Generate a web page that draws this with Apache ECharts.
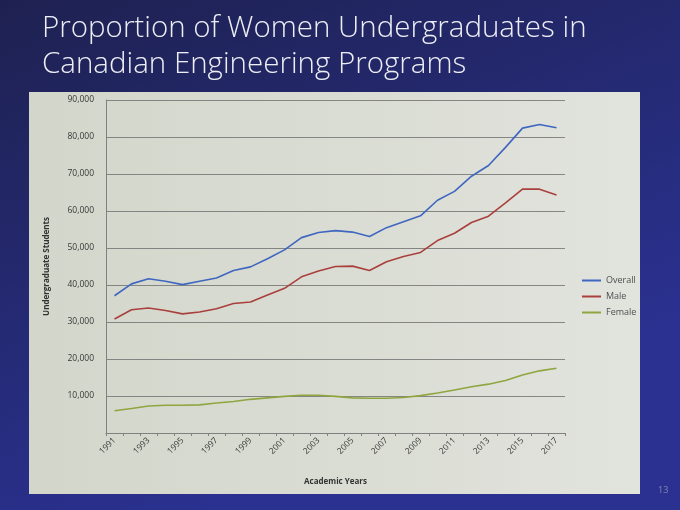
<!DOCTYPE html>
<html>
<head>
<meta charset="utf-8">
<script src="https://cdn.jsdelivr.net/npm/echarts@6/dist/echarts.min.js"></script>
<style>
  html, body { margin: 0; padding: 0; background: #23275f; }
  #chart { width: 680px; height: 510px; }
</style>
</head>
<body>
<div id="chart"></div>
<script>
// 学年
var years = ['1991', '1992', '1993', '1994', '1995', '1996', '1997', '1998', '1999',
    '2000', '2001', '2002', '2003', '2004', '2005', '2006', '2007', '2008', '2009',
    '2010', '2011', '2012', '2013', '2014', '2015', '2016', '2017'];

var overall = [37100, 40300, 41700, 41000, 40100, 41000, 41900, 43900, 44900,
    47100, 49500, 52800, 54200, 54700, 54300, 53100, 55500, 57100, 58700,
    62900, 65300, 69400, 72300, 77200, 82400, 83400, 82500];

var male = [30800, 33300, 33800, 33100, 32200, 32700, 33600, 35000, 35400,
    37300, 39100, 42200, 43800, 45000, 45100, 43900, 46300, 47700, 48800,
    52000, 54000, 56900, 58600, 62200, 65900, 65900, 64300];

var female = [6000, 6600, 7300, 7500, 7500, 7600, 8100, 8500, 9100,
    9500, 9900, 10200, 10200, 9900, 9500, 9400, 9400, 9600, 10100,
    10800, 11600, 12500, 13200, 14200, 15700, 16800, 17500];

var seriesNames = ['Overall', 'Male', 'Female'];
var seriesColors = ['#3f66c0', '#a9403d', '#8fa640'];

var myChart = echarts.init(document.getElementById('chart'));

var labelFont = 'Open Sans';

option = {
    backgroundColor: new echarts.graphic.LinearGradient(0, 0, 0.3, 1, [
        { offset: 0, color: '#1e2150' },
        { offset: 1, color: '#2a3190' }
    ]),
    title: {
        text: 'Proportion of Women Undergraduates in\nCanadian Engineering Programs',
        left: 37,
        top: 6,
        textStyle: {
            color: '#eceef4',
            fontFamily: labelFont,
            fontWeight: 300,
            fontSize: 29.5,
            lineHeight: 36
        }
    },
    // 浅色图表底板
    graphic: [{
        type: 'rect',
        z: -10,
        shape: { x: 29, y: 92, width: 611, height: 402 },
        style: {
            fill: new echarts.graphic.LinearGradient(0, 0, 1, 0, [
                { offset: 0, color: '#d3d6ca' },
                { offset: 1, color: '#e1e3dd' }
            ])
        }
    }, {
        type: 'text',
        left: 658,
        top: 486,
        style: { text: '13', fill: '#8088b0', fontSize: 9, fontFamily: labelFont }
    }],
    legend: {
        orient: 'vertical',
        left: 577,
        top: 271,
        icon: 'rect',
        itemWidth: 19,
        itemHeight: 2,
        itemGap: 7,
        data: seriesNames,
        textStyle: { color: '#505050', fontSize: 9, fontFamily: labelFont }
    },
    grid: {
        left: 106,
        right: 115,
        top: 100,
        bottom: 77
    },
    xAxis: {
        type: 'category',
        data: years,
        boundaryGap: true,
        name: 'Academic Years',
        nameLocation: 'middle',
        nameGap: 45,
        nameTextStyle: { color: '#333', fontSize: 8, fontWeight: 'bold', fontFamily: labelFont },
        axisLine: { lineStyle: { color: '#808080', width: 1 } },
        axisTick: { show: true, interval: 0, length: 3, lineStyle: { color: '#808080' } },
        axisLabel: {
            interval: 1,
            rotate: 45,
            margin: 6,
            color: '#383838',
            fontSize: 8.5,
            fontFamily: labelFont
        }
    },
    yAxis: {
        type: 'value',
        min: 0,
        max: 90000,
        interval: 10000,
        name: 'Undergraduate Students',
        nameLocation: 'middle',
        nameGap: 55,
        nameTextStyle: { color: '#333', fontSize: 8, fontWeight: 'bold', fontFamily: labelFont },
        axisLine: { show: true, lineStyle: { color: '#808080', width: 1 } },
        axisTick: { show: false },
        splitLine: { lineStyle: { color: '#6e6e6e', width: 0.8 } },
        axisLabel: {
            margin: 12,
            color: '#383838',
            fontSize: 8.5,
            fontFamily: labelFont,
            formatter: function (v) {
                if (v === 0) return '';
                return v.toLocaleString('en-US');
            }
        }
    },
    color: seriesColors,
    series: [{
        name: 'Overall',
        type: 'line',
        symbol: 'none',
        lineStyle: { width: 1.6 },
        data: overall
    }, {
        name: 'Male',
        type: 'line',
        symbol: 'none',
        lineStyle: { width: 1.6 },
        data: male
    }, {
        name: 'Female',
        type: 'line',
        symbol: 'none',
        lineStyle: { width: 1.6 },
        data: female
    }]
};

myChart.setOption(option);
</script>
</body>
</html>
